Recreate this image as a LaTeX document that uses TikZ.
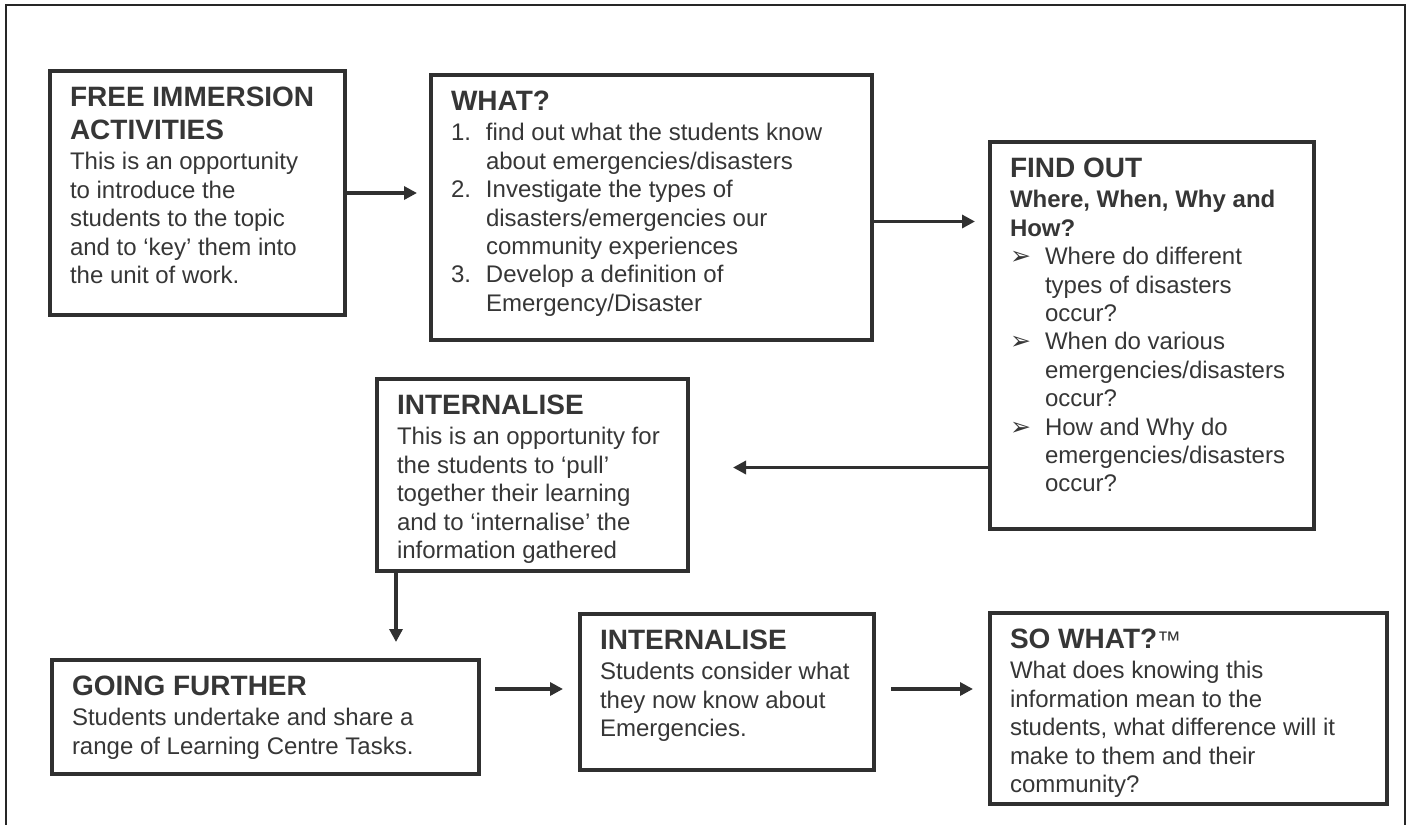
\documentclass[tikz,border=0pt]{standalone}
\usepackage{fontspec}
\setmainfont{Liberation Sans}
\newfontfamily\symfont{DejaVu Sans}
\usetikzlibrary{arrows.meta}
\definecolor{inkgray}{HTML}{363636}
\definecolor{boxgray}{HTML}{303030}
\newcommand{\stagebody}{\fontsize{12}{14.2}\selectfont}
\newcommand{\stagetitle}[1]{{\fontsize{14}{16.5}\selectfont\bfseries #1\par}\vspace{1pt}}
\newcommand{\stageitem}[2]{\hangindent=17.5pt\hangafter=1\noindent\makebox[17.5pt][l]{#1}#2\par}
\newcommand{\pointer}{{\symfont\fontsize{12.5}{12}\selectfont ➢}}
\newcommand{\stagetext}[3]{\begin{minipage}[t][#2][t]{#1}\stagebody\raggedright #3\end{minipage}}

\begin{document}
\begin{tikzpicture}[x=0.5pt, y=-0.5pt, >={Triangle[length=6.5pt, width=6.5pt]},
  stage/.style={draw=boxgray, line width=2pt, anchor=north west, inner xsep=10pt, inner ysep=8pt, text=inkgray},
  flow/.style={->, draw=boxgray, line width=1.8pt}]
\useasboundingbox (0,0) rectangle (1410,825);
\draw[black!85, line width=1pt] (6,825) |- (1405,5) -- (1405,825);

\node[stage] (free) at (48,69) {\stagetext{127.5pt}{106pt}{%
  \stagetitle{FREE IMMERSION\newline ACTIVITIES}
  This is an opportunity\newline to introduce the\newline students to the topic\newline and to ‘key’ them into\newline the unit of work.}};

\node[stage] (what) at (429,73) {\stagetext{200.5pt}{116.5pt}{%
  \stagetitle{WHAT?}
  \stageitem{1.}{find out what the students know\newline about emergencies/disasters}
  \stageitem{2.}{Investigate the types of\newline disasters/emergencies our\newline community experiences}
  \stageitem{3.}{Develop a definition of\newline Emergency/Disaster}}};

\node[stage] (find) at (988,140) {\stagetext{142pt}{177.5pt}{%
  \stagetitle{FIND OUT}
  {\bfseries Where, When, Why and\newline How?\par}
  \stageitem{\pointer}{Where do different\newline types of disasters\newline occur?}
  \stageitem{\pointer}{When do various\newline emergencies/disasters\newline occur?}
  \stageitem{\pointer}{How and Why do\newline emergencies/disasters\newline occur?}}};

\node[stage] (intern) at (375,377) {\stagetext{135.5pt}{80pt}{%
  \stagetitle{INTERNALISE}
  This is an opportunity for\newline the students to ‘pull’\newline together their learning\newline and to ‘internalise’ the\newline information gathered}};

\node[stage] (going) at (50,658) {\stagetext{193.5pt}{41pt}{%
  \stagetitle{GOING FURTHER}
  Students undertake and share a\newline range of Learning Centre Tasks.}};

\node[stage] (consider) at (578,612) {\stagetext{127pt}{62pt}{%
  \stagetitle{INTERNALISE}
  Students consider what\newline they now know about\newline Emergencies.}};

\node[stage] (sowhat) at (988,611) {\stagetext{178.5pt}{79.5pt}{%
  \stagetitle{SO WHAT?{\mdseries\fontsize{12}{14}\selectfont ™}}
  What does knowing this\newline information mean to the\newline students, what difference will it\newline make to them and their\newline community?}};

\coordinate (whatin) at ([xshift=-6pt]what.west);
\coordinate (a2) at ([yshift=-7pt]what.east);
\coordinate (findin) at ([xshift=-6.5pt]find.west);
\coordinate (a3) at ([yshift=-66pt]find.west);
\coordinate (internout) at ([xshift=21.5pt]intern.east);
\coordinate (a4) at ([xshift=10.5pt]intern.south west);
\coordinate (goingtop) at ([yshift=8pt]going.north);
\coordinate (a5) at ([shift={(7pt,14pt)}]going.east);
\coordinate (considerin) at ([xshift=-7.5pt]consider.west);
\coordinate (considerout) at ([xshift=7.5pt]consider.east);
\coordinate (sowhatin) at ([xshift=-7.5pt]sowhat.west);

\draw[flow] (free.east) -- (whatin |- free.east);
\draw[flow] (a2) -- (findin |- a2);
\draw[flow] (a3) -- (internout |- a3);
\draw[flow] (a4) -- (a4 |- goingtop);
\draw[flow] (a5) -- (considerin |- a5);
\draw[flow] (considerout |- a5) -- (sowhatin |- a5);
\end{tikzpicture}
\end{document}
